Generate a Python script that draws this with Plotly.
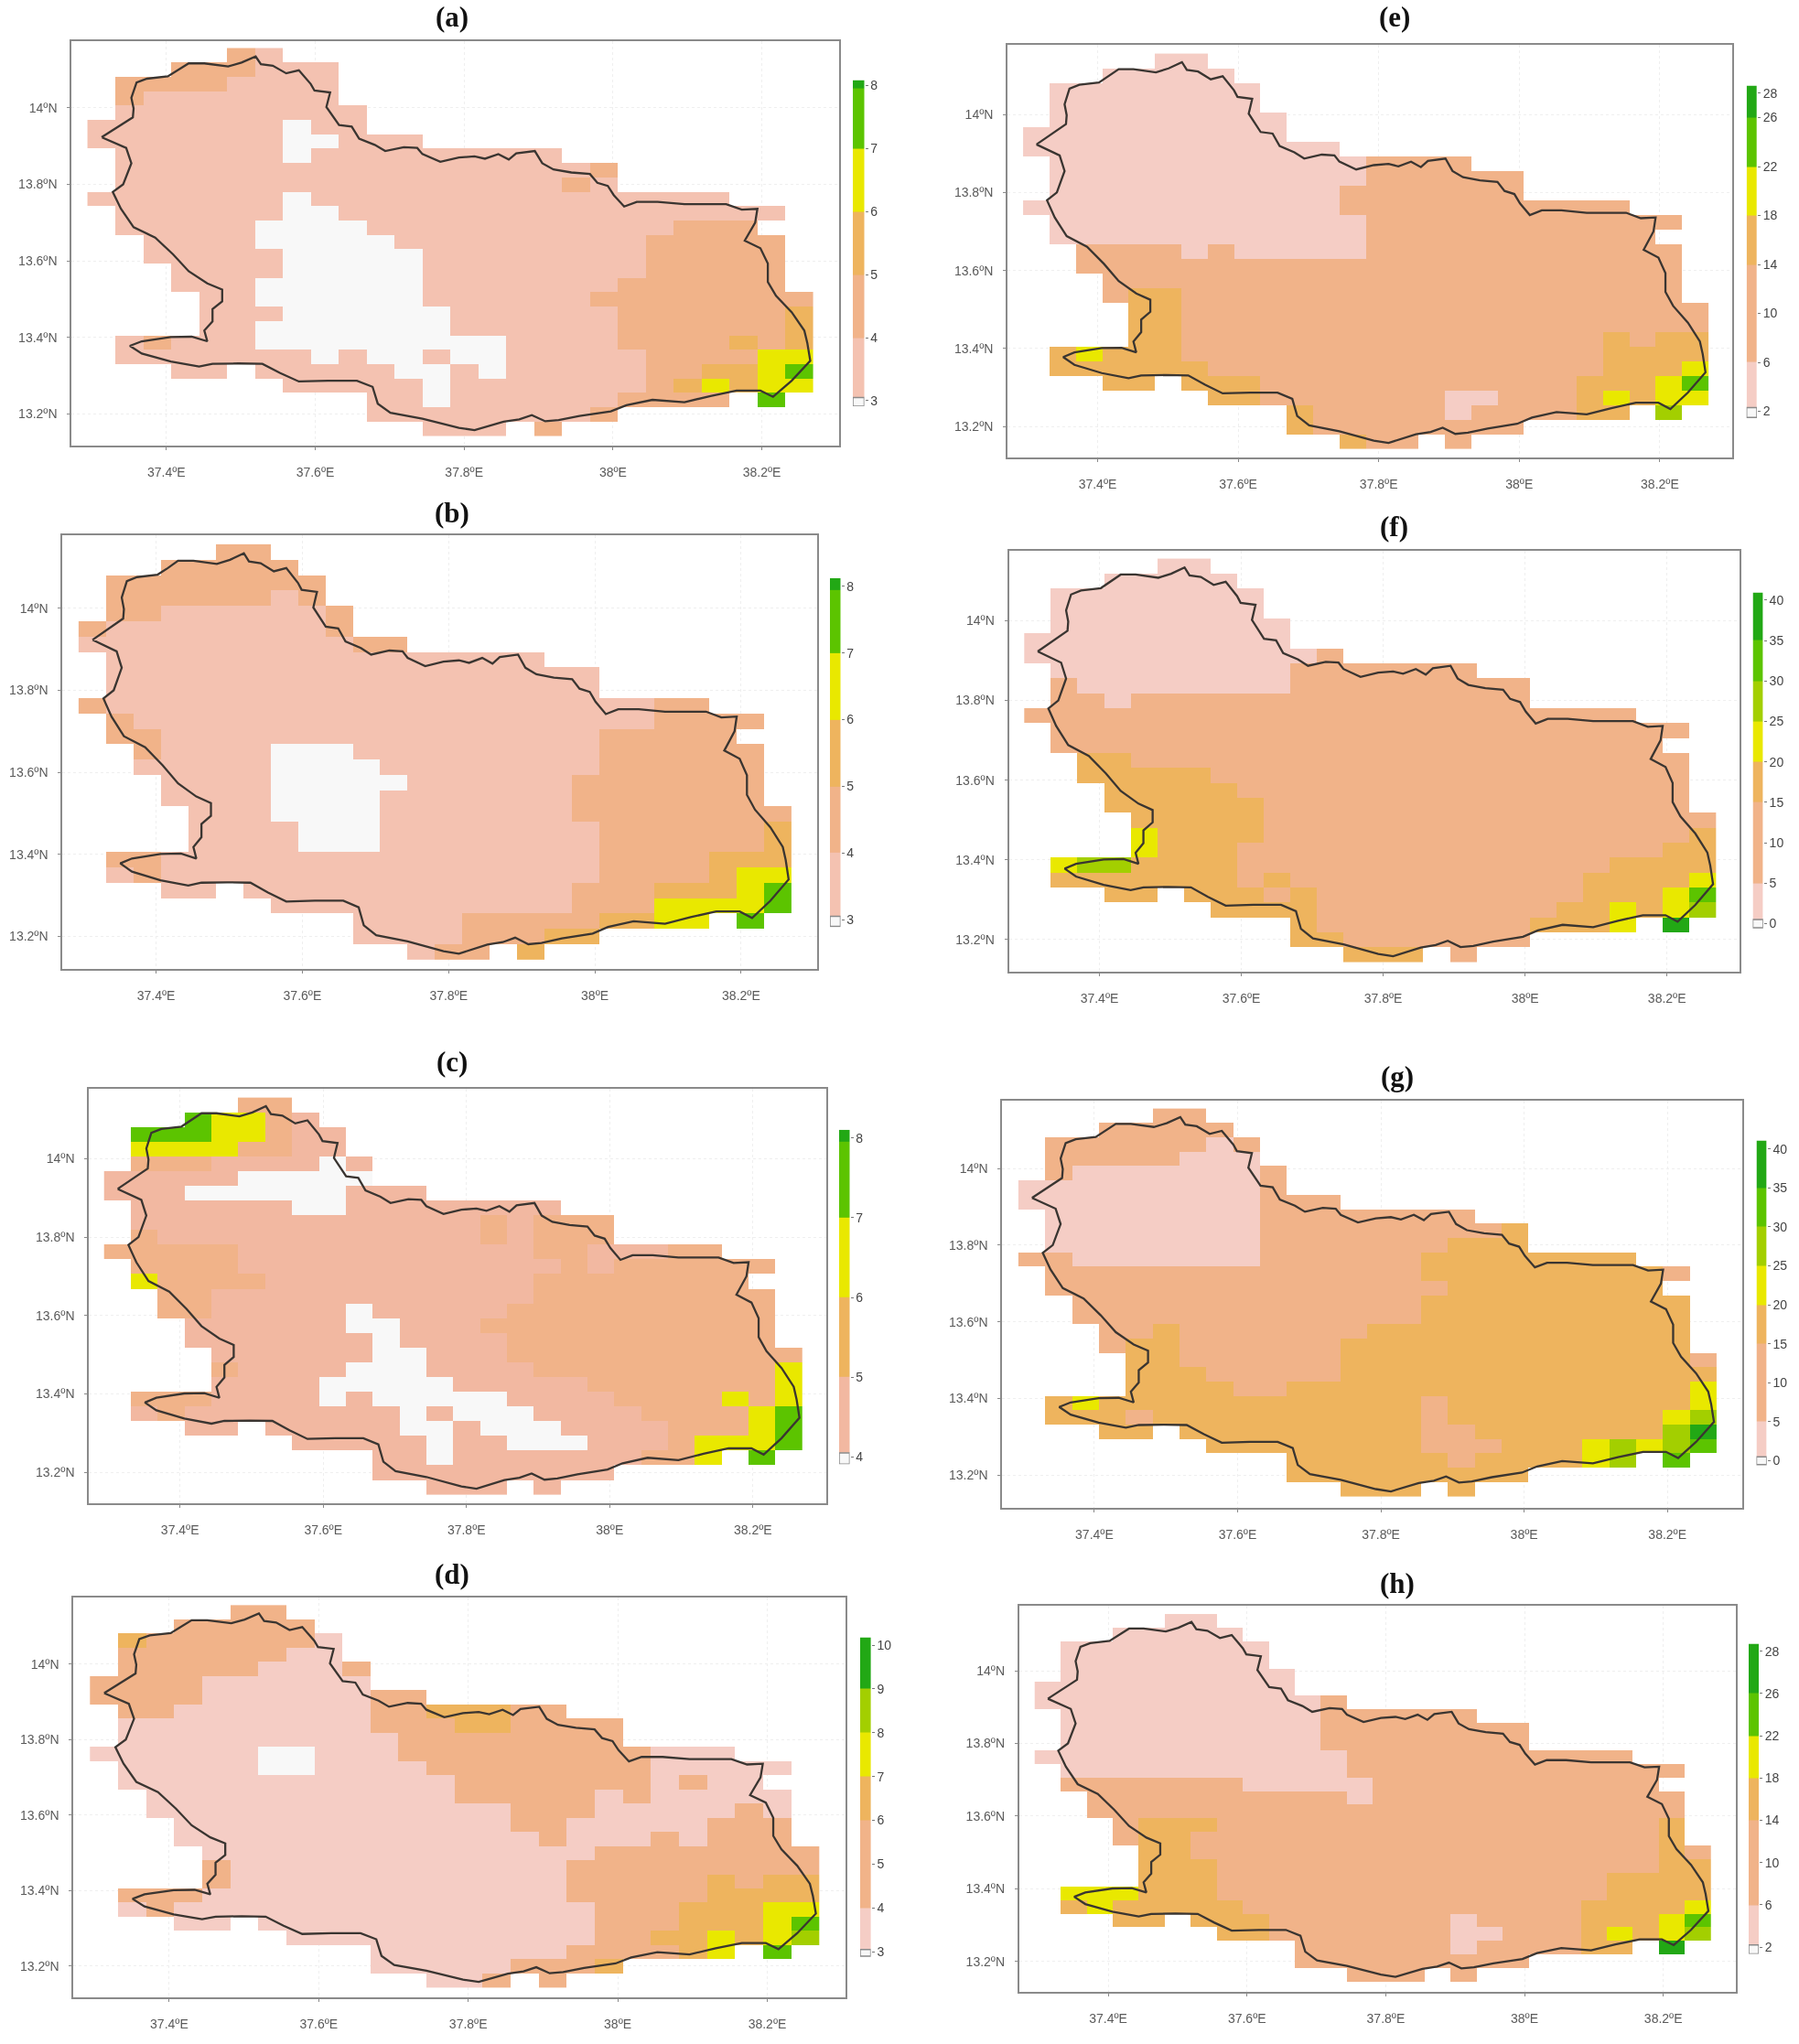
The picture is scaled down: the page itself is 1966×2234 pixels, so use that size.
import plotly.graph_objects as go

W, H = 1966, 2234
NCOL, NROW = 26, 27
LON0, LAT_TOP, STEP = 37.294, 14.156, 0.0375

palette = ["#f8f8f8", "#f5cdc5", "#f4c2b1", "#f1b389", "#eeb45e", "#e9e800",
           "#a3cf00", "#5cc400", "#22a815", "#f2b8a1"]

boundary_lon = [37.313,37.335,37.355,37.356,37.353,37.360,37.374,37.402,37.416,37.430,37.451,37.483,37.501,37.520,37.527,37.543,37.561,37.578,37.594,37.599,37.620,37.615,37.632,37.649,37.659,37.680,37.694,37.719,37.737,37.744,37.768,37.793,37.814,37.828,37.846,37.860,37.870,37.895,37.905,37.920,37.944,37.969,37.979,37.993,38.001,38.015,38.032,38.060,38.096,38.152,38.173,38.194,38.191,38.177,38.198,38.208,38.208,38.219,38.240,38.257,38.261,38.265,38.240,38.215,38.198,38.166,38.131,38.096,38.053,38.018,37.997,37.955,37.927,37.909,37.891,37.874,37.853,37.814,37.793,37.744,37.701,37.684,37.677,37.656,37.617,37.578,37.553,37.529,37.497,37.462,37.444,37.406,37.367,37.351,37.367,37.406,37.434,37.455,37.451,37.462,37.462,37.475,37.475,37.455,37.430,37.409,37.385,37.356,37.339,37.328,37.342,37.353,37.346,37.313]
boundary_lat = [13.923,13.951,13.975,13.998,14.026,14.066,14.076,14.082,14.098,14.116,14.116,14.108,14.118,14.134,14.114,14.110,14.090,14.098,14.062,14.045,14.040,14.002,13.955,13.951,13.919,13.903,13.887,13.897,13.895,13.879,13.859,13.870,13.873,13.867,13.879,13.865,13.881,13.887,13.855,13.839,13.831,13.827,13.804,13.796,13.772,13.742,13.754,13.754,13.748,13.748,13.734,13.736,13.700,13.653,13.633,13.593,13.545,13.509,13.466,13.418,13.386,13.339,13.287,13.245,13.261,13.261,13.247,13.231,13.237,13.223,13.207,13.195,13.184,13.181,13.197,13.186,13.180,13.158,13.164,13.188,13.203,13.227,13.271,13.287,13.287,13.285,13.307,13.331,13.332,13.331,13.324,13.337,13.358,13.378,13.390,13.401,13.402,13.390,13.418,13.442,13.474,13.494,13.525,13.541,13.573,13.617,13.661,13.688,13.736,13.780,13.800,13.855,13.895,13.923]

# run-length coded class rows (count + class char, '.' = no data; ".n" = n empty cells), north to south
grid_a = ["5. 13 12","3. 33 32",".1 43 42",".1 13 72",".1 92","72 10 22","72 20 32",".1 62 10 92",
 ".1 172 13",".1 162 13 12","72 10 152",".1 62 20 162",".1 52 40 112 33","2. 42 50 92 53 1.","2. 52 50 82 53 1.",
 "3. 42 50 82 53 1.","3. 32 60 72 63 1.","4. 22 60 62 83","4. 32 60 62 63 14","4. 22 70 62 63 14",
 "1. 12 13 32 90 42 43 14 13 14","1. 72 10 12 20 12 20 52 43 25","3. 22 1. 52 20 12 10 52 23 24 15 17",
 "7. 52 10 72 13 14 15 14 25","10. 22 10 62 43 1. 17 1.","10. 82 13 7.","12. 32 1. 13 9."]
grid_b = ["5. 23","3. 53",".1 83",".1 63 12 13",".1 23 62 13","13 82 13","102 23",".1 162",".1 182",".1 182",
 "13 202 23","1. 13 192 43 1.","1. 23 162 53 2.","2. 13 42 30 92 63 1.","2. 12 42 40 82 63 1.","3. 42 50 62 73 1.",
 "3. 42 40 72 73 1.","4. 32 40 72 83","4. 42 30 82 63 14","4. 42 30 82 63 14","1. 23 162 43 34","1. 12 13 162 43 14 25",
 "3. 22 1. 122 33 34 15 17","7. 112 33 45 17","10. 42 53 24 25 1. 17 1.","10. 42 33 24 7.","12. 12 23 1. 14 9."]
grid_c = ["5. 23","3. 17 25 13 19",".1 37 25 13 29",".1 45 23 29",".1 33 49 10 19","59 50","39 60 39",".1 69 20 89",
 ".1 139 13 19 33",".1 13 129 13 19 33","53 119 23 39 23","1. 43 129 13 19 63 1.","1. 15 43 109 83 2.","2. 23 129 93 1.",
 "2. 23 59 10 59 103 1.","3. 19 59 20 39 113 1.","3. 19 69 10 49 103 1.","4. 69 20 39 113","4. 13 49 30 49 93 15",
 "4. 49 50 59 73 15","1. 33 49 10 19 50 49 43 15 13 15","1. 19 13 89 10 19 30 49 43 15 17",
 "3. 29 1. 59 20 19 30 49 33 15 17","7. 59 10 29 30 39 13 35 17","10. 29 10 79 23 15 1. 17 1.","10. 99 7.","12. 39 1. 19 9."]
grid_d = ["5. 23","3. 53",".1 14 63 11",".1 63 21",".1 53 31 13","43 61","43 61 23",".1 23 71 23 34 23",".1 91 33 24 43",
 ".1 101 83","61 20 31 93 31","1. 51 20 41 83 51 1.","1. 121 73 11 13 21 2.","2. 111 53 11 13 51 1.","2. 131 33 51 13 11 1.",
 "3. 121 23 51 33 1.","3. 131 13 31 13 11 33 1.","4. 141 83","4. 13 121 93","4. 13 121 53 14 13 24",
 "1. 33 131 53 34 14","1. 11 13 151 33 34 25","3. 21 1. 121 33 34 15 17","7. 111 23 14 14 15 14 15 16",
 "10. 71 43 14 15 1. 17 1.","10. 51 33 14 7.","12. 21 13 1. 13 9."]
grid_e = ["5. 21","3. 51",".1 81",".1 81",".1 91","101","121",".1 121 43",".1 121 63",".1 111 73","121 113","1. 121 123 1.",
 "1. 121 113 2.","2. 43 11 13 51 123 1.","2. 233 1.","3. 223 1.","3. 13 24 193 1.","4. 24 203","4. 24 203",
 "4. 24 163 14 13 24","1. 14 15 34 163 44","1. 64 153 34 15","3. 24 1. 34 123 34 15 17","7. 24 73 21 33 14 15 14 25",
 "10. 14 53 11 43 24 1. 16 1.","10. 14 83 7.","12. 14 23 1. 13 9."]
grid_f = ["5. 21","3. 51",".1 81",".1 81",".1 91","101","111 13",".1 91 73",".1 13 81 93",".1 23 11 153","233","1. 243 1.","1. 233 2.",
 "2. 24 213 1.","2. 54 183 1.","3. 54 173 1.","3. 64 163 1.","4. 54 173","4. 15 44 163 14","4. 15 34 163 24",
 "1. 15 26 14 34 143 44","1. 74 13 14 113 44 15","3. 24 1. 34 13 14 103 34 15 17","7. 44 93 24 15 14 15 16",
 "10. 14 83 34 15 1. 18 1.","10. 24 73 7.","12. 34 1. 13 9."]
grid_g = ["5. 23","3. 53",".1 63 11 13",".1 53 31",".1 13 71 13","91 13","91 33",".1 81 83",".1 81 93 14",".1 81 73 34",
 "23 71 63 84","1. 143 94 13 1.","1. 153 84 2.","2. 133 104 1.","2. 133 104 1.","3. 23 14 73 124 1.","3. 13 24 63 134 1.",
 "4. 24 63 134 13","4. 34 53 144","4. 44 23 154 15","1. 14 15 124 13 94 15","1. 34 13 104 13 84 15 16",
 "3. 24 1. 94 23 74 16 18","7. 84 33 34 15 16 15 16 17","10. 64 13 44 15 16 1. 17 1.","10. 94 7.","12. 34 1. 14 9."]
grid_h = ["5. 21","3. 51",".1 81",".1 81",".1 91","101","111 13",".1 101 63",".1 101 83",".1 101 83","121 113","1. 111 133 1.",
 "1. 73 51 113 2.","2. 103 11 123 1.","2. 233 1.","3. 13 34 173 14 1.","3. 13 24 183 14 1.","4. 24 183 14 13",
 "4. 34 173 24","4. 34 153 44","1. 35 34 153 44","1. 14 15 54 133 44 15","3. 24 1. 34 73 11 43 34 15 17",
 "7. 24 73 21 33 14 15 14 15 16","10. 63 11 43 24 1. 18 1.","10. 93 7.","12. 33 1. 13 9."]
grids = [grid_a, grid_b, grid_c, grid_d, grid_e, grid_f, grid_g, grid_h]

panel_titles = ["(a)", "(b)", "(c)", "(d)", "(e)", "(f)", "(g)", "(h)"]
title_px = [(494,17),(494,560),(494,1161),(494,1722),(1524,17),(1523,575),(1527,1177),(1527,1732)]
# frame L,R,T,B then pixel of 37.4E, 38.2E, 14N, 13.2N
frames = [(78.4,917,42.7,485.7,181.8,832.6,116,451.3),
          (68.4,892.6,584.3,1059.3,170.6,809.9,664,1023.3),
          (97.3,903.2,1190,1644.3,196.7,822.8,1266.7,1610),
          (80.3,924.1,1747.3,2185,184.9,838.5,1820,2150.7),
          (1101.2,1893.4,47.3,499.3,1199.5,1813.9,123.3,465),
          (1102.6,1901.4,601,1061.7,1201.5,1821.7,677.7,1026.7),
          (1095.3,1903.6,1202.7,1649,1195.9,1822.2,1277.3,1613.3),
          (1113.9,1896.9,1755.7,2179.3,1211.1,1817.7,1827.3,2145.7)]
lon_ticks = [37.4, 37.6, 37.8, 38.0, 38.2]
lon_labels = ["37.4ºE", "37.6ºE", "37.8ºE", "38ºE", "38.2ºE"]
lat_ticks = [13.2, 13.4, 13.6, 13.8, 14.0]
lat_labels = ["13.2ºN", "13.4ºN", "13.6ºN", "13.8ºN", "14ºN"]

# colour bar: L,R,T,B px, px of first and last tick
cb_px = [(932,944.5,85.7,442.7,436.7,91.7),(907,918.5,631,1013.3,1005,640),(917,928.5,1235,1601,1593.3,1244),
         (940,951.6,1790.7,2142.7,2135,1799.3),(1908.7,1920,91.7,456,448.3,100),(1915.5,1926.8,646.7,1016.7,1009.3,655),
         (1919.5,1930.7,1246.7,1604,1597.3,1256),(1911,1922,1797.7,2137.3,2130,1806)]
cb_labels = [[3,4,5,6,7,8],[3,4,5,6,7,8],[4,5,6,7,8],[3,4,5,6,7,8,9,10],[2,6,10,14,18,22,26,28],
             [0,5,10,15,20,25,30,35,40],[0,5,10,15,20,25,30,35,40],[2,6,10,14,18,22,26,28]]
cb_pos = [[3,4,5,6,7,8],[3,4,5,6,7,8],[4,5,6,7,8],[3,4,5,6,7,8,9,10],[2,6,10,14,18,22,26,28],
          [0,5,10,15,20,25,30,35,40],[0,5,10,15,20,25,30,35,40],[0,1,2,3,4,5,6,7]]
cb_edges = [[2.9,3.05,4,5,6,7,7.95,8.2],[2.9,3.05,4,5,6,7,7.95,8.2],[3.9,4.05,5,6,7,7.95,8.2],
            [2.9,3.05,4,5,6,7,8,9,10.3],[1.5,2.3,6,14,18,22,26,29],[-0.5,0.5,5,15,20,25,30,35,42],
            [-0.5,0.5,5,15,20,25,30,35,42],[-0.2,0.05,1,3,4,5,6,7.3]]
cb_classes = [[0,2,3,4,5,7,8],[0,2,3,4,5,7,8],[0,9,4,5,7,8],[0,1,3,3,4,5,6,8],[0,1,3,4,5,7,8],
              [0,1,3,4,5,6,7,8],[0,1,3,4,5,6,7,8],[0,1,3,4,5,7,8]]

def decode(row):
    out = ""
    for tok in row.split():
        if tok[0] == ".":
            out += "." * int(tok[1:])
        else:
            out += tok[-1] * int(tok[:-1])
    if len(out) > NCOL:
        raise ValueError(row)
    return out.ljust(NCOL, ".")

N = len(palette)
scale = []
for i, c in enumerate(palette):
    scale += [[i / N, c], [(i + 1) / N, c]]

fig = go.Figure()
layout = dict(width=W, height=H, margin=dict(l=0, r=0, t=0, b=0), paper_bgcolor="white", plot_bgcolor="white",
              showlegend=False, annotations=[], shapes=[])
xc = [LON0 + (i + .5) * STEP for i in range(NCOL)]
yc = [LAT_TOP - (j + .5) * STEP for j in range(NROW)]
FONT = dict(family="Liberation Sans", size=14, color="#5a5a5a")

for k in range(8):
    n = k + 1
    L, R, T, B, xa, xb, ya, yb = frames[k]
    dx = 0.8 / (xb - xa)
    dy = 0.8 / (yb - ya)
    rows = [decode(r) for r in grids[k]]
    z = [[None if ch == "." else int(ch) for ch in r] for r in rows]
    fig.add_trace(go.Heatmap(x=xc, y=yc, z=z, zmin=0, zmax=N - 1e-9, colorscale=scale, showscale=False,
                             hoverinfo="skip", xaxis=f"x{n}", yaxis=f"y{n}"))
    fig.add_trace(go.Scatter(x=boundary_lon, y=boundary_lat, mode="lines", line=dict(color="#3a3531", width=2.3),
                             hoverinfo="skip", xaxis=f"x{n}", yaxis=f"y{n}"))
    common = dict(showline=True, linecolor="#8a8a8a", linewidth=2, mirror=True, ticks="outside", ticklen=3,
                  tickcolor="#8a8a8a", showgrid=True, gridcolor="#efefef", griddash="dot", gridwidth=1,
                  zeroline=False, tickfont=FONT)
    layout[f"xaxis{n}"] = dict(common, domain=[L / W, R / W], range=[37.4 + (L - xa) * dx, 37.4 + (R - xa) * dx],
                               tickvals=lon_ticks, ticktext=lon_labels, ticklabelstandoff=12, anchor=f"y{n}")
    layout[f"yaxis{n}"] = dict(common, domain=[1 - B / H, 1 - T / H], range=[14 - (B - ya) * dy, 14 - (T - ya) * dy],
                               tickvals=lat_ticks, ticktext=lat_labels, ticklabelstandoff=8, anchor=f"x{n}")
    tx, ty = title_px[k]
    layout["annotations"].append(dict(text=panel_titles[k], x=tx / W, y=1 - ty / H, xref="paper", yref="paper",
                                      showarrow=False, xanchor="center", yanchor="middle",
                                      font=dict(family="Liberation Serif", size=31, color="#111111", weight="bold")))
    # colour bar
    c = n + 8
    cl, cr, ct, cb, p0, p1 = cb_px[k]
    pos = cb_pos[k]
    per = (pos[-1] - pos[0]) / (p0 - p1)
    v_bot = pos[0] - (cb - p0) * per
    v_top = pos[-1] + (p1 - ct) * per
    edges = [max(v_bot, min(v_top, e)) for e in cb_edges[k]]
    fig.add_trace(go.Heatmap(x=[0, 1], y=edges, z=[[v] for v in cb_classes[k]], zmin=0, zmax=N - 1e-9,
                             colorscale=scale, showscale=False, hoverinfo="skip", xaxis=f"x{c}", yaxis=f"y{c}"))
    layout[f"xaxis{c}"] = dict(domain=[cl / W, cr / W], range=[0, 1], visible=False, anchor=f"y{c}")
    layout[f"yaxis{c}"] = dict(domain=[1 - cb / H, 1 - ct / H], range=[v_bot, v_top], side="right", anchor=f"x{c}",
                               tickvals=pos, ticktext=[str(v) for v in cb_labels[k]], ticks="outside", ticklen=3,
                               tickcolor="#777777", showgrid=False, zeroline=False, showline=False,
                               tickfont=dict(family="Liberation Sans", size=14, color="#444444"))
    layout["shapes"].append(dict(type="rect", xref=f"x{c}", yref=f"y{c}", x0=0, x1=1, y0=edges[0], y1=edges[1],
                                 line=dict(color="#8a8a8a", width=1.5), fillcolor="rgba(0,0,0,0)"))

fig.update_layout(**layout)
fig.write_html("out.html", config={"displayModeBar": False},
               post_script="document.body.style.margin='0';var g=document.querySelector('.plotly-graph-div');if(g){g.style.filter='blur(0.6px)';}")
